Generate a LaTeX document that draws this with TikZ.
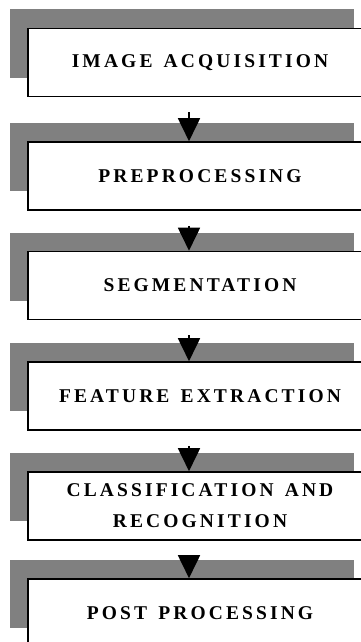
\documentclass[tikz,border=0pt]{standalone}
\usepackage{fontspec}
\setmainfont{Liberation Serif}
\newfontfamily\stepfont[LetterSpace=16,WordSpace=1.4]{Liberation Serif}
\usetikzlibrary{arrows.meta,shadows}
\definecolor{shadowgray}{RGB}{128,128,128}
\tikzset{
  stage/.style={draw, line width=1.6pt, fill=white, minimum width=344pt, minimum height=68pt,
    align=center, font=\stepfont\bfseries\fontsize{19.5}{31}\selectfont,
    general shadow={shadow xshift=-18pt, shadow yshift=19pt, fill=shadowgray}},
  flow/.style={line width=1.8pt, -{Triangle[width=22pt,length=23pt]}, shorten <=15pt}
}
\begin{document}
\begin{tikzpicture}[x=1pt,y=-1pt]
  \useasboundingbox (0,0) rectangle (361,642);
  \clip (0,0) rectangle (361,642);
  \node[stage] (acq) at (200,62.5) {IMAGE ACQUISITION};
  \node[stage] (pre) at (200,176) {PREPROCESSING};
  \node[stage] (seg) at (200,285.5) {SEGMENTATION};
  \node[stage] (feat) at (200,396) {FEATURE EXTRACTION};
  \node[stage] (cls) at (200,506) {CLASSIFICATION AND\\RECOGNITION};
  \node[stage] (post) at (200,613) {POST PROCESSING};
  \coordinate (ax) at (189,0);
  \draw[flow] (acq.south -| ax) -- (pre.north -| ax);
  \draw[flow] (pre.south -| ax) -- (seg.north -| ax);
  \draw[flow] (seg.south -| ax) -- (feat.north -| ax);
  \draw[flow] (feat.south -| ax) -- (cls.north -| ax);
  \draw[flow] (cls.south -| ax) -- (post.north -| ax);
\end{tikzpicture}
\end{document}
